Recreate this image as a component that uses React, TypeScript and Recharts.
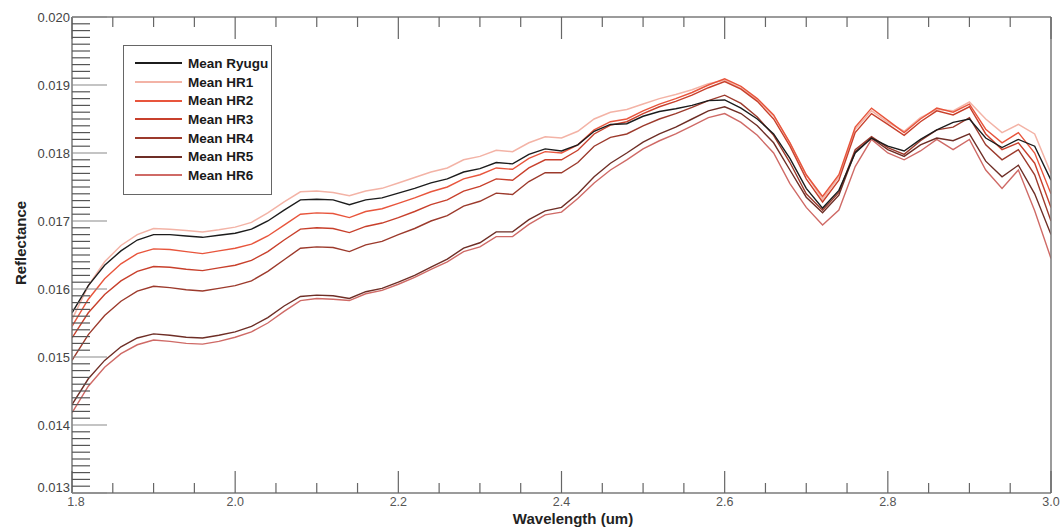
import React from 'react';
import { LineChart, Line, XAxis, YAxis } from 'recharts';

// wavelength channels (um)
const wavelength = [
  1.80, 1.82, 1.84, 1.86, 1.88, 1.90, 1.92, 1.94, 1.96, 1.98,
  2.00, 2.02, 2.04, 2.06, 2.08, 2.10, 2.12, 2.14, 2.16, 2.18,
  2.20, 2.22, 2.24, 2.26, 2.28, 2.30, 2.32, 2.34, 2.36, 2.38,
  2.40, 2.42, 2.44, 2.46, 2.48, 2.50, 2.52, 2.54, 2.56, 2.58,
  2.60, 2.62, 2.64, 2.66, 2.68, 2.70, 2.72, 2.74, 2.76, 2.78,
  2.80, 2.82, 2.84, 2.86, 2.88, 2.90, 2.92, 2.94, 2.96, 2.98,
  3.00,
];

const meanRyugu = [
  0.01565, 0.01605, 0.01635, 0.01656, 0.01672, 0.01680, 0.01680, 0.01678, 0.01676, 0.01679,
  0.01682, 0.01688, 0.01700, 0.01716, 0.01731, 0.01732, 0.01731, 0.01724, 0.01731, 0.01734,
  0.01741, 0.01748, 0.01756, 0.01762, 0.01772, 0.01777, 0.01786, 0.01784, 0.01798, 0.01806,
  0.01803, 0.01812, 0.01832, 0.01842, 0.01843, 0.01854, 0.01861, 0.01865, 0.01870, 0.01877,
  0.01878, 0.01866, 0.01850, 0.01828, 0.01792, 0.01748, 0.01719, 0.01745, 0.01800, 0.01822,
  0.01810, 0.01803, 0.01820, 0.01834, 0.01845, 0.01850, 0.01822, 0.01808, 0.01820, 0.01810,
  0.01760,
];

const meanHR1 = [
  0.01555, 0.01605, 0.01640, 0.01664, 0.01680, 0.01689, 0.01688, 0.01686, 0.01684, 0.01687,
  0.01691, 0.01698, 0.01712, 0.01728, 0.01743, 0.01744, 0.01742, 0.01737, 0.01744, 0.01748,
  0.01756, 0.01764, 0.01772, 0.01778, 0.01790, 0.01795, 0.01804, 0.01802, 0.01815, 0.01824,
  0.01822, 0.01832, 0.01850, 0.01860, 0.01864, 0.01872, 0.01880, 0.01886, 0.01893, 0.01902,
  0.01907, 0.01895, 0.01878, 0.01855, 0.01815, 0.01768, 0.01732, 0.01765, 0.01835, 0.01862,
  0.01845, 0.01832, 0.01852, 0.01864, 0.01862, 0.01875, 0.01850, 0.01830, 0.01842, 0.01828,
  0.01770,
];

const meanHR2 = [
  0.01545, 0.01585, 0.01615, 0.01637, 0.01652, 0.01659, 0.01658, 0.01655, 0.01652, 0.01656,
  0.01660, 0.01666, 0.01678, 0.01694, 0.01710, 0.01712, 0.01711, 0.01705, 0.01714, 0.01718,
  0.01726, 0.01734, 0.01743, 0.01750, 0.01762, 0.01768, 0.01778, 0.01776, 0.01792, 0.01802,
  0.01800, 0.01812, 0.01834, 0.01846, 0.01850, 0.01862, 0.01872, 0.01880, 0.01889, 0.01900,
  0.01909, 0.01898, 0.01880, 0.01856, 0.01815, 0.01768, 0.01736, 0.01768, 0.01838, 0.01866,
  0.01848, 0.01830, 0.01850, 0.01866, 0.01860, 0.01872, 0.01835, 0.01815, 0.01830, 0.01800,
  0.01740,
];

const meanHR3 = [
  0.01528, 0.01565, 0.01592, 0.01612, 0.01626, 0.01633, 0.01632, 0.01629, 0.01627, 0.01631,
  0.01635, 0.01642, 0.01655, 0.01672, 0.01688, 0.01690, 0.01689, 0.01683, 0.01692, 0.01697,
  0.01705, 0.01714, 0.01724, 0.01731, 0.01744, 0.01751, 0.01762, 0.01760, 0.01778, 0.01790,
  0.01790, 0.01804, 0.01828, 0.01841, 0.01846, 0.01858, 0.01868, 0.01876, 0.01885, 0.01896,
  0.01905, 0.01894, 0.01876, 0.01850, 0.01810, 0.01762, 0.01728, 0.01760, 0.01830, 0.01858,
  0.01842, 0.01826, 0.01846, 0.01862, 0.01856, 0.01868, 0.01828, 0.01805, 0.01815, 0.01785,
  0.01720,
];

const meanHR4 = [
  0.01495, 0.01533, 0.01561, 0.01582, 0.01597, 0.01604, 0.01602, 0.01599, 0.01597, 0.01601,
  0.01605, 0.01612, 0.01626, 0.01643, 0.01660, 0.01662, 0.01661, 0.01655, 0.01665, 0.01670,
  0.01680, 0.01689, 0.01700, 0.01708, 0.01722, 0.01729, 0.01741, 0.01739, 0.01758, 0.01771,
  0.01771, 0.01786, 0.01810, 0.01823, 0.01828, 0.01840, 0.01850, 0.01858, 0.01867, 0.01877,
  0.01885, 0.01873, 0.01853, 0.01826, 0.01786, 0.01740, 0.01716, 0.01742, 0.01805, 0.01824,
  0.01808, 0.01798, 0.01818, 0.01834, 0.01838, 0.01852, 0.01812, 0.01790, 0.01805, 0.01768,
  0.01700,
];

const meanHR5 = [
  0.01430, 0.01468, 0.01495, 0.01515, 0.01528, 0.01534, 0.01532, 0.01529, 0.01528, 0.01532,
  0.01537, 0.01545, 0.01558, 0.01575, 0.01589, 0.01591, 0.01590, 0.01586, 0.01596, 0.01601,
  0.01610, 0.01620, 0.01632, 0.01644, 0.01660, 0.01668, 0.01684, 0.01684, 0.01702, 0.01715,
  0.01720, 0.01740, 0.01765, 0.01785, 0.01800, 0.01816, 0.01828, 0.01838, 0.01850, 0.01862,
  0.01868, 0.01858, 0.01840, 0.01815, 0.01775, 0.01735, 0.01712, 0.01738, 0.01802, 0.01822,
  0.01805, 0.01795, 0.01812, 0.01822, 0.01818, 0.01828, 0.01788, 0.01765, 0.01782, 0.01740,
  0.01680,
];

const meanHR6 = [
  0.01418, 0.01457, 0.01485, 0.01505, 0.01518, 0.01525, 0.01523, 0.01520, 0.01519, 0.01523,
  0.01529, 0.01537, 0.01550, 0.01567, 0.01583, 0.01586, 0.01585, 0.01583, 0.01593, 0.01598,
  0.01607, 0.01617, 0.01629, 0.01640, 0.01655, 0.01662, 0.01677, 0.01677, 0.01695, 0.01709,
  0.01713, 0.01733, 0.01756, 0.01775, 0.01790, 0.01806, 0.01818, 0.01828, 0.01840, 0.01852,
  0.01858, 0.01845, 0.01826, 0.01800, 0.01755, 0.01720, 0.01694, 0.01716, 0.01780, 0.01820,
  0.01800, 0.01790, 0.01803, 0.01820, 0.01805, 0.01820, 0.01775, 0.01748, 0.01775, 0.01715,
  0.01645,
];

const yMajorTicks = [0.013, 0.014, 0.015, 0.016, 0.017, 0.018, 0.019, 0.020];
const xMajorTicks = [1.8, 2.0, 2.2, 2.4, 2.6, 2.8, 3.0];

// minor ticks: 10 per major on y, 4 per major on x
const yTicks: number[] = [];
for (let i = 0; i <= 70; i++) yTicks.push(+(0.013 + i * 0.0001).toFixed(4));
const xTicks: number[] = [];
for (let i = 0; i <= 24; i++) xTicks.push(+(1.8 + i * 0.05).toFixed(2));

const isMajorY = (v: number) => yMajorTicks.some((t) => Math.abs(t - v) < 1e-7);
const isMajorX = (v: number) => xMajorTicks.some((t) => Math.abs(t - v) < 1e-7);

const series = [
  { key: 'hr1', name: 'Mean HR1', color: '#f3b3a6', width: 1.5 },
  { key: 'hr6', name: 'Mean HR6', color: '#cf6a66', width: 1.4 },
  { key: 'hr2', name: 'Mean HR2', color: '#e8553c', width: 1.4 },
  { key: 'hr3', name: 'Mean HR3', color: '#c8402c', width: 1.4 },
  { key: 'hr4', name: 'Mean HR4', color: '#9c3a2c', width: 1.4 },
  { key: 'hr5', name: 'Mean HR5', color: '#6e2e26', width: 1.4 },
  { key: 'ryugu', name: 'Mean Ryugu', color: '#1c1c1c', width: 1.4 },
];

const legendOrder = ['ryugu', 'hr1', 'hr2', 'hr3', 'hr4', 'hr5', 'hr6'];

const data = wavelength.map((w, i) => ({
  w,
  ryugu: meanRyugu[i],
  hr1: meanHR1[i],
  hr2: meanHR2[i],
  hr3: meanHR3[i],
  hr4: meanHR4[i],
  hr5: meanHR5[i],
  hr6: meanHR6[i],
}));

const FONT = '"Liberation Sans", Arial, Helvetica, sans-serif';
const AXIS = '#7a7a7a';

const LeftTick = (props: any) => {
  const { x, y, payload } = props;
  const major = isMajorY(payload.value);
  // the lowest label sits a little higher so it clears the "1.8" below it
  const lowest = Math.abs(payload.value - 0.013) < 1e-7;
  return (
    <g>
      <line x1={x} x2={x + (major ? 35 : 18)} y1={y} y2={y} stroke={major ? '#8a8a8a' : '#555'} strokeWidth={1.2} />
      {major && (
        <text x={x - 2} y={y} dy={lowest ? -1 : 4.5} textAnchor="end" fontSize={13} fill="#444" fontFamily={FONT}>
          {payload.value.toFixed(3)}
        </text>
      )}
    </g>
  );
};

const RightTick = (props: any) => {
  const { x, y, payload } = props;
  const major = isMajorY(payload.value);
  return <line x1={x} x2={x - (major ? 35 : 18)} y1={y} y2={y} stroke={major ? '#8a8a8a' : '#555'} strokeWidth={1.2} />;
};

const BottomTick = (props: any) => {
  const { x, y, payload } = props;
  const major = isMajorX(payload.value);
  const first = Math.abs(payload.value - 1.8) < 1e-7;
  return (
    <g>
      <line x1={x} x2={x} y1={y} y2={y - (major ? 22 : 10)} stroke="#666" strokeWidth={1.2} />
      {major && (
        <text x={first ? x + 4 : x} y={y} dy={13} textAnchor="middle" fontSize={12.5} fill="#555" fontFamily={FONT}>
          {payload.value.toFixed(1)}
        </text>
      )}
    </g>
  );
};

const TopTick = (props: any) => {
  const { x, y, payload } = props;
  const major = isMajorX(payload.value);
  return <line x1={x} x2={x} y1={y} y2={y + (major ? 22 : 10)} stroke="#666" strokeWidth={1.2} />;
};

export default function App() {
  return (
    <div style={{ position: 'absolute', left: 0, top: 0, width: 1060, height: 527, background: '#fff', fontFamily: FONT }}>
      <LineChart width={1060} height={527} data={data} margin={{ top: 0, right: 0, bottom: 0, left: 0 }}>
        <XAxis
          dataKey="w"
          type="number"
          domain={[1.8, 3.0]}
          ticks={xTicks}
          interval={0}
          height={34}
          tickSize={0}
          tickMargin={0}
          tickLine={false}
          axisLine={{ stroke: AXIS, strokeWidth: 1.5 }}
          tick={<BottomTick />}
          allowDataOverflow
        />
        <XAxis
          xAxisId="top"
          dataKey="w"
          orientation="top"
          type="number"
          domain={[1.8, 3.0]}
          ticks={xTicks}
          interval={0}
          height={17}
          tickSize={0}
          tickMargin={0}
          tickLine={false}
          axisLine={{ stroke: AXIS, strokeWidth: 1.5 }}
          tick={<TopTick />}
        />
        <YAxis
          type="number"
          domain={[0.013, 0.02]}
          ticks={yTicks}
          interval={0}
          width={72}
          tickSize={0}
          tickMargin={0}
          tickLine={false}
          axisLine={{ stroke: AXIS, strokeWidth: 1.5 }}
          tick={<LeftTick />}
          allowDataOverflow
        />
        <YAxis
          yAxisId="right"
          orientation="right"
          type="number"
          domain={[0.013, 0.02]}
          ticks={yTicks}
          interval={0}
          width={9}
          tickSize={0}
          tickMargin={0}
          tickLine={false}
          axisLine={{ stroke: AXIS, strokeWidth: 1.5 }}
          tick={<RightTick />}
        />
        {series.map((s) => (
          <Line
            key={s.key}
            type="linear"
            dataKey={s.key}
            name={s.name}
            stroke={s.color}
            strokeWidth={s.width}
            dot={false}
            activeDot={false}
            isAnimationActive={false}
          />
        ))}
      </LineChart>

      {/* axis titles */}
      <div
        style={{
          position: 'absolute', left: 20, top: 243, transform: 'translate(-50%, -50%) rotate(-90deg)',
          fontSize: 15, fontWeight: 'bold', color: '#222', whiteSpace: 'nowrap',
        }}
      >
        Reflectance
      </div>
      <div
        style={{
          position: 'absolute', left: 573, top: 519, transform: 'translate(-50%, -50%)',
          fontSize: 15, fontWeight: 'bold', color: '#222', whiteSpace: 'nowrap', lineHeight: '16px',
        }}
      >
        Wavelength (um)
      </div>

      {/* legend box */}
      <div
        style={{
          position: 'absolute', left: 123, top: 45, width: 149, height: 150,
          border: '1px solid #666', background: '#fff', boxSizing: 'border-box', paddingTop: 8,
        }}
      >
        {legendOrder.map((k) => {
          const s = series.find((d) => d.key === k)!;
          return (
            <div key={k} style={{ display: 'flex', alignItems: 'center', height: 18.7 }}>
              <div style={{ marginLeft: 11, width: 47, height: 2, background: s.color }} />
              <span style={{ marginLeft: 6, fontSize: 13.5, fontWeight: 'bold', color: '#1a1a1a', whiteSpace: 'nowrap' }}>
                {s.name}
              </span>
            </div>
          );
        })}
      </div>
    </div>
  );
}
